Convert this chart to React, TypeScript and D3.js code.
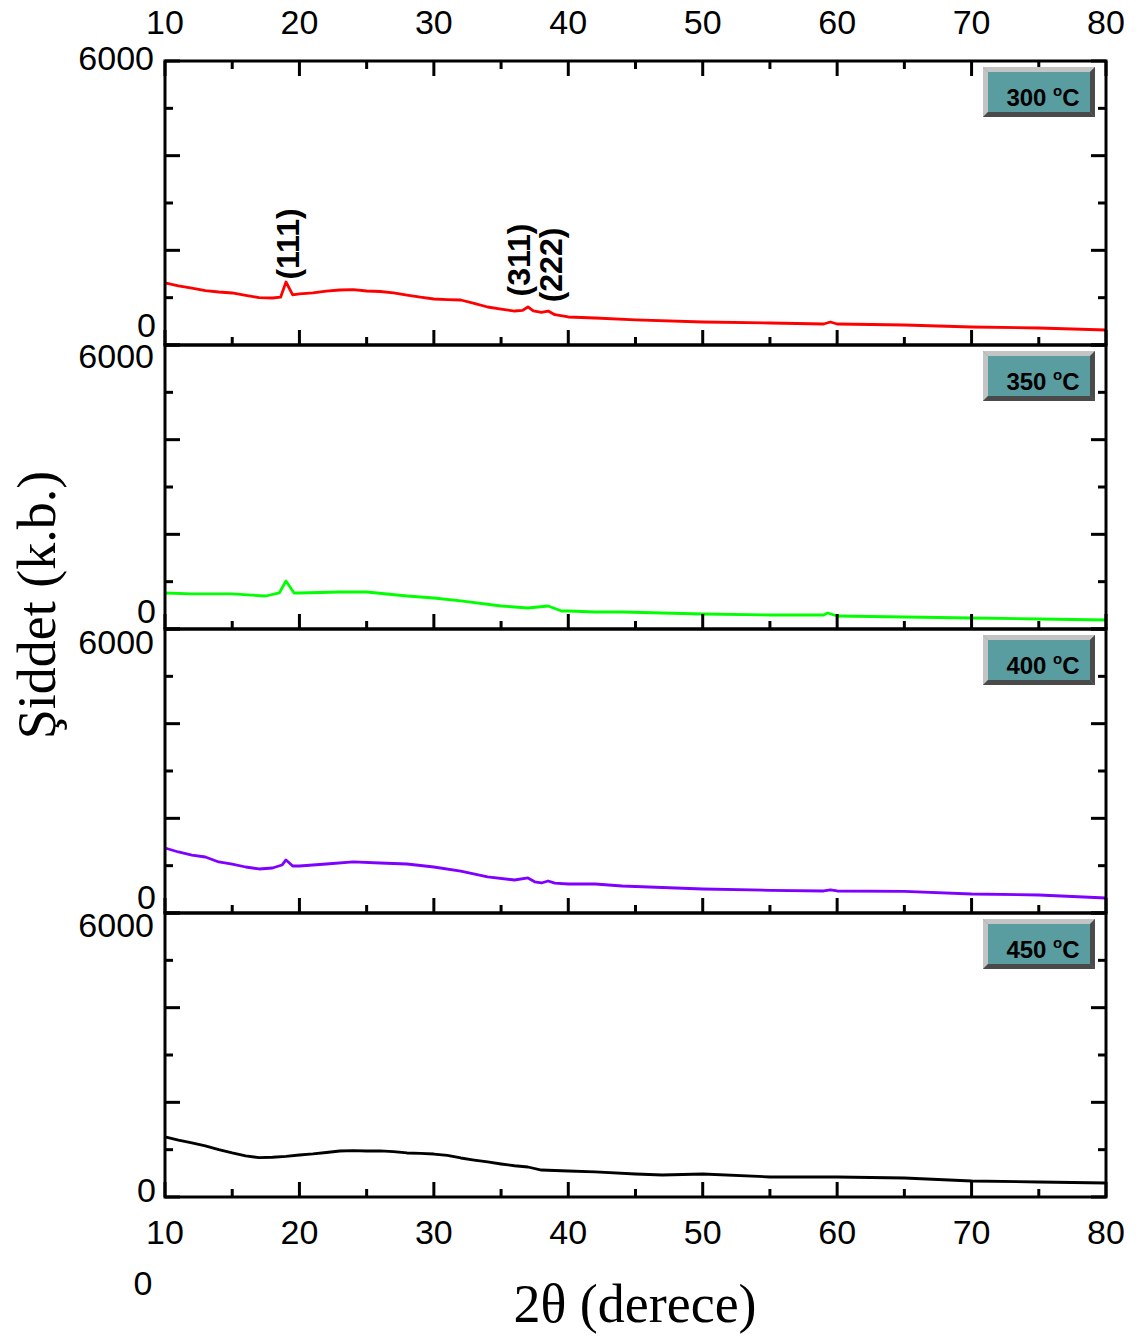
import React from 'react';
import * as d3 from 'd3';

// XRD patterns (2θ in degrees, intensity in counts)
const angles300 = [10, 11, 12, 13, 14, 15, 16, 17, 18, 18.6, 19, 19.5, 20, 21, 22, 23, 24, 25, 26, 27, 28, 29, 30, 31, 32, 33, 34, 35, 36, 36.6, 37, 37.4, 38, 38.5, 39, 40, 42, 45, 50, 55, 59, 59.5, 60, 65, 70, 75, 80];
const counts300 = [1310, 1250, 1200, 1150, 1120, 1099, 1050, 1000, 993, 1010, 1331, 1060, 1078, 1100, 1140, 1162, 1170, 1141, 1130, 1100, 1056, 1010, 972, 960, 951, 880, 803, 760, 718, 730, 803, 720, 690, 718, 640, 592, 570, 530, 486, 465, 444, 486, 444, 423, 380, 359, 317];

const angles350 = [10, 12, 15, 17.5, 18.5, 19, 19.6, 20, 23, 25, 28, 30, 32, 35, 37, 38.5, 39.5, 40, 42, 44, 50, 55, 59, 59.3, 60, 65, 70, 75, 80];
const counts350 = [761, 740, 740, 697, 761, 1014, 761, 761, 782, 782, 697, 655, 592, 486, 444, 486, 380, 380, 359, 359, 317, 296, 296, 338, 275, 254, 232, 211, 190];

const angles400 = [10, 11, 12, 13, 14, 15, 16, 17, 18, 18.7, 19, 19.5, 20, 22, 24, 26, 28, 30, 32, 34, 36, 37, 37.5, 38, 38.5, 39, 40, 42, 44, 46, 50, 55, 59, 59.5, 60, 65, 70, 75, 80];
const counts400 = [1373, 1289, 1225, 1183, 1078, 1035, 972, 930, 951, 1014, 1120, 993, 993, 1035, 1078, 1056, 1035, 972, 887, 761, 697, 740, 660, 634, 676, 630, 613, 613, 570, 549, 507, 480, 465, 490, 465, 455, 401, 380, 317];

const angles450 = [10, 11, 12, 13, 14, 15, 16, 17, 18, 19, 20, 21, 22, 23, 24, 25, 26, 27, 28, 29, 30, 31, 32, 33, 34, 35, 36, 37, 38, 39, 40, 42, 45, 47, 50, 55, 60, 65, 70, 75, 80];
const counts450 = [1268, 1200, 1141, 1080, 1000, 930, 870, 830, 840, 860, 887, 910, 940, 972, 980, 972, 975, 960, 930, 920, 908, 880, 824, 780, 740, 697, 660, 634, 570, 560, 549, 530, 486, 465, 486, 423, 423, 401, 338, 317, 296];

const temperatures = ['300', '350', '400', '450'];
const lineColors = ['#ff0000', '#00ff00', '#8000ff', '#000000'];
const seriesAngles = [angles300, angles350, angles400, angles450];
const seriesCounts = [counts300, counts350, counts400, counts450];

const peakLabels = ['(111)', '(311)', '(222)'];
const peakAngles = [19.15, 36.3, 38.7];
const peakCounts = [2134, 1796, 1690];

const xTicks = [10, 20, 30, 40, 50, 60, 70, 80];
const xMinor = [15, 25, 35, 45, 55, 65, 75];
const yMajor = [0, 2000, 4000, 6000];
const yMinor = [1000, 3000, 5000];

const W = 1144;
const H = 1340;
const left = 165;
const right = 1106;
const panelTop = 61;
const panelH = 284;

// odd placements of the 6000 / 0 labels in the original
const topLabelNudge = [-3, 11, 13, 12];
const zeroLabelNudge = [-20, -18, -16, -7];

const sans = "'Liberation Sans', Arial, sans-serif";
const serif = "'Liberation Serif', 'Times New Roman', serif";
const tickFont = 34;

const x = d3.scaleLinear().domain([10, 80]).range([left, right]);

const Legend = ({ top, label }: { top: number; label: string }) => {
  const x0 = 983, x1 = 1095, y0 = top + 6, y1 = top + 56, b = 5;
  return (
    <g>
      <rect x={x0} y={y0} width={x1 - x0} height={y1 - y0} fill="#5a9da1" />
      <polygon points={`${x0},${y0} ${x1},${y0} ${x1 - b},${y0 + b} ${x0 + b},${y0 + b}`} fill="#c4c4c4" />
      <polygon points={`${x0},${y0} ${x0 + b},${y0 + b} ${x0 + b},${y1 - b} ${x0},${y1}`} fill="#c4c4c4" />
      <polygon points={`${x1},${y0} ${x1},${y1} ${x1 - b},${y1 - b} ${x1 - b},${y0 + b}`} fill="#4a4a4a" />
      <polygon points={`${x0},${y1} ${x1},${y1} ${x1 - b},${y1 - b} ${x0 + b},${y1 - b}`} fill="#4a4a4a" />
      <text x={1043} y={top + 45} textAnchor="middle" fontFamily={sans} fontWeight="bold" fontSize={24} fill="#000">
        {label + ' '}
        <tspan fontSize={15} dy={-10}>o</tspan>
        <tspan dy={10}>C</tspan>
      </text>
    </g>
  );
};

const Panel = ({ i }: { i: number }) => {
  const top = panelTop + i * panelH;
  const bottom = top + panelH;
  const y = d3.scaleLinear().domain([0, 6000]).range([bottom, top]);
  const pts = seriesAngles[i].map((a, k) => [a, seriesCounts[i][k]] as [number, number]);
  const line = d3.line<[number, number]>().x(d => x(d[0])).y(d => y(d[1]));
  return (
    <g>
      <path d={line(pts) || ''} fill="none" stroke={lineColors[i]} strokeWidth={2.8} strokeLinejoin="round" />
      {/* x ticks, inward from the bottom */}
      {xTicks.map(t => (
        <line key={'xm' + t} x1={x(t)} x2={x(t)} y1={bottom} y2={bottom - 15} stroke="#000" strokeWidth={3} />
      ))}
      {xMinor.map(t => (
        <line key={'xn' + t} x1={x(t)} x2={x(t)} y1={bottom} y2={bottom - 8} stroke="#000" strokeWidth={3} />
      ))}
      {i === 0 && xTicks.map(t => (
        <line key={'xt' + t} x1={x(t)} x2={x(t)} y1={top} y2={top + 15} stroke="#000" strokeWidth={3} />
      ))}
      {i === 0 && xMinor.map(t => (
        <line key={'xtn' + t} x1={x(t)} x2={x(t)} y1={top} y2={top + 8} stroke="#000" strokeWidth={3} />
      ))}
      {/* y ticks on both sides */}
      {yMajor.map(t => (
        <g key={'ym' + t}>
          <line x1={left} x2={left + 15} y1={y(t)} y2={y(t)} stroke="#000" strokeWidth={3} />
          <line x1={right} x2={right - 15} y1={y(t)} y2={y(t)} stroke="#000" strokeWidth={3} />
        </g>
      ))}
      {yMinor.map(t => (
        <g key={'yn' + t}>
          <line x1={left} x2={left + 8} y1={y(t)} y2={y(t)} stroke="#000" strokeWidth={3} />
          <line x1={right} x2={right - 8} y1={y(t)} y2={y(t)} stroke="#000" strokeWidth={3} />
        </g>
      ))}
      <rect x={left} y={top} width={right - left} height={panelH} fill="none" stroke="#000" strokeWidth={3} />
      <text x={154} y={y(6000) + topLabelNudge[i]} textAnchor="end" dominantBaseline="central" fontFamily={sans} fontSize={tickFont}>6000</text>
      <text x={156} y={y(0) + zeroLabelNudge[i]} textAnchor="end" dominantBaseline="central" fontFamily={sans} fontSize={tickFont}>0</text>
      <Legend top={top} label={temperatures[i]} />
      {i === 0 && peakLabels.map((p, k) => (
        <text
          key={p}
          transform={`translate(${x(peakAngles[k])},${y(peakCounts[k])}) rotate(-90)`}
          textAnchor="middle"
          dominantBaseline="central"
          fontFamily={sans}
          fontWeight="bold"
          fontSize={32}
        >
          {p}
        </text>
      ))}
    </g>
  );
};

const App = () => {
  const bottomAxis = panelTop + 4 * panelH;
  return (
    <svg width={W} height={H} style={{ position: 'absolute', left: 0, top: 0, background: '#fff' }}>
      {[0, 1, 2, 3].map(i => <Panel key={i} i={i} />)}
      {xTicks.map(t => (
        <text key={'top' + t} x={x(t)} y={22} textAnchor="middle" dominantBaseline="central" fontFamily={sans} fontSize={tickFont}>{t}</text>
      ))}
      {xTicks.map(t => (
        <text key={'bot' + t} x={x(t)} y={bottomAxis + 35} textAnchor="middle" dominantBaseline="central" fontFamily={sans} fontSize={tickFont}>{t}</text>
      ))}
      <text x={143} y={1283} textAnchor="middle" dominantBaseline="central" fontFamily={sans} fontSize={tickFont}>0</text>
      <text x={635} y={1322} textAnchor="middle" fontFamily={serif} fontSize={54}>2θ (derece)</text>
      <text transform="translate(55,605) rotate(-90)" textAnchor="middle" fontFamily={serif} fontSize={54}>Şiddet (k.b.)</text>
    </svg>
  );
};

export default App;
